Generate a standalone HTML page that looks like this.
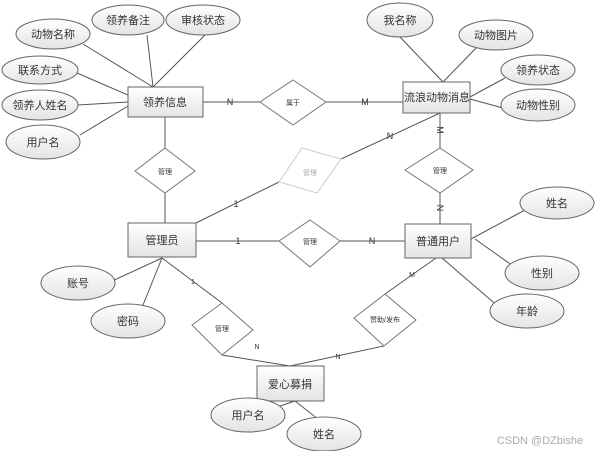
<!DOCTYPE html>
<html><head><meta charset="utf-8"><style>
html,body{margin:0;padding:0;background:#fff;}
svg text{font-family:"Liberation Sans","Noto Sans CJK SC",sans-serif;fill:#333;}
</style></head><body>
<svg width="600" height="451" viewBox="0 0 600 451" xmlns="http://www.w3.org/2000/svg">
<defs>
<linearGradient id="g" x1="0" y1="0" x2="0" y2="1"><stop offset="0" stop-color="#fff"/><stop offset="1" stop-color="#e4e4e4"/></linearGradient>
</defs>
<g stroke="#555" stroke-width="1" fill="none">
<line x1="83" y1="44" x2="153" y2="87"/>
<line x1="147" y1="35" x2="153" y2="87"/>
<line x1="205" y1="35" x2="153" y2="87"/>
<line x1="77" y1="73" x2="128" y2="95"/>
<line x1="78" y1="105" x2="128" y2="102"/>
<line x1="80" y1="135" x2="128" y2="106"/>
<line x1="400" y1="37" x2="443" y2="82"/>
<line x1="477" y1="47" x2="443" y2="82"/>
<line x1="505" y1="78" x2="470" y2="97"/>
<line x1="503" y1="108" x2="470" y2="99"/>
<line x1="525" y1="210" x2="471" y2="239"/>
<line x1="513" y1="266" x2="475" y2="239"/>
<line x1="500" y1="308" x2="442" y2="258"/>
<line x1="110" y1="282" x2="162" y2="258"/>
<line x1="143" y1="305" x2="162" y2="258"/>
<line x1="265" y1="411" x2="295" y2="401"/>
<line x1="318" y1="419" x2="295" y2="401"/>
<line x1="203" y1="102" x2="260" y2="102"/>
<line x1="326" y1="102" x2="403" y2="102"/>
<line x1="165" y1="117" x2="165" y2="148"/>
<line x1="165" y1="193" x2="165" y2="223"/>
<line x1="440" y1="113" x2="440" y2="148"/>
<line x1="440" y1="193" x2="440" y2="224"/>
<line x1="196" y1="241" x2="279" y2="241"/>
<line x1="340" y1="241" x2="405" y2="241"/>
<line x1="196" y1="223" x2="279" y2="182"/>
<line x1="341" y1="159" x2="440" y2="113"/>
<line x1="162" y1="258" x2="222" y2="303"/>
<line x1="222" y1="355" x2="290" y2="366"/>
<line x1="290" y1="366" x2="384" y2="346"/>
<line x1="385" y1="294" x2="436" y2="258"/>
</g>
<g stroke="#666" stroke-width="1" fill="url(#g)">
<rect x="128" y="87" width="75" height="30"/>
<rect x="403" y="82" width="67" height="31"/>
<rect x="128" y="223" width="68" height="34"/>
<rect x="405" y="224" width="66" height="34"/>
<rect x="257" y="366" width="67" height="35"/>
</g>
<g stroke="#777" stroke-width="1" fill="#fff">
<polygon points="293,80 326,102 293,125 260,102"/>
<polygon points="165,148 195,171 165,193 135,171"/>
<polygon points="440,148 473,170 440,193 405,170"/>
<polygon points="310,220 340,241 310,267 279,241"/>
<polygon points="222,303 253,330 222,355 192,325"/>
<polygon points="385,294 416,320 384,346 354,318"/>
<polygon points="302,148 341,159 317,193 279,182" stroke="#ccc"/>
</g>
<g stroke="#666" stroke-width="1" fill="url(#g)">
<ellipse cx="53" cy="34" rx="37" ry="15"/>
<ellipse cx="128" cy="20" rx="36" ry="15"/>
<ellipse cx="203" cy="20" rx="37" ry="15"/>
<ellipse cx="40" cy="70" rx="38" ry="14"/>
<ellipse cx="40" cy="105" rx="38" ry="15"/>
<ellipse cx="43" cy="142" rx="37" ry="17"/>
<ellipse cx="400" cy="20" rx="33" ry="17"/>
<ellipse cx="496" cy="35" rx="37" ry="15"/>
<ellipse cx="538" cy="70" rx="37" ry="15"/>
<ellipse cx="538" cy="105" rx="37" ry="16"/>
<ellipse cx="557" cy="203" rx="37" ry="16"/>
<ellipse cx="542" cy="273" rx="37" ry="17"/>
<ellipse cx="527" cy="311" rx="37" ry="17"/>
<ellipse cx="78" cy="283" rx="37" ry="17"/>
<ellipse cx="128" cy="321" rx="37" ry="17"/>
<ellipse cx="248" cy="415" rx="37" ry="17"/>
<ellipse cx="324" cy="434" rx="37" ry="17"/>
</g>
<g font-size="11" text-anchor="middle">
<text x="53" y="38">动物名称</text>
<text x="128" y="24">领养备注</text>
<text x="203" y="24">审核状态</text>
<text x="40" y="74">联系方式</text>
<text x="40" y="109">领养人姓名</text>
<text x="43" y="146">用户名</text>
<text x="400" y="24">我名称</text>
<text x="496" y="39">动物图片</text>
<text x="538" y="74">领养状态</text>
<text x="538" y="109">动物性别</text>
<text x="557" y="207">姓名</text>
<text x="542" y="277">性别</text>
<text x="527" y="315">年龄</text>
<text x="78" y="287">账号</text>
<text x="128" y="325">密码</text>
<text x="248" y="419">用户名</text>
<text x="324" y="438">姓名</text>
<text x="165" y="106">领养信息</text>
<text x="437" y="101">流浪动物消息</text>
<text x="162" y="244">管理员</text>
<text x="438" y="245">普通用户</text>
<text x="290" y="388">爱心募捐</text>
</g>
<g font-size="7" text-anchor="middle">
<text x="293" y="105">属于</text>
<text x="165" y="174">管理</text>
<text x="440" y="173">管理</text>
<text x="310" y="244">管理</text>
<text x="222" y="331">管理</text>
<text x="385" y="322">赞助/发布</text>
<text x="310" y="175" style="fill:#aaa">管理</text>
</g>
<g font-size="9" text-anchor="middle">
<text x="230" y="105">N</text>
<text x="365" y="105">M</text>
<text x="238" y="244">1</text>
<text x="372" y="244">N</text>
<text x="440" y="133" transform="rotate(90 440 130)">M</text>
<text x="440" y="211" transform="rotate(90 440 208)">N</text>
<text x="390" y="139">N</text>
<text x="236" y="207">1</text>
<text x="257" y="349" font-size="7">N</text>
<text x="338" y="359" font-size="7">N</text>
<text x="412" y="277" font-size="7">M</text>
<text x="193" y="284" font-size="7">1</text>
</g>
<text x="540" y="444" font-size="11" text-anchor="middle" style="fill:#aaa">CSDN @DZbishe</text>
</svg>
</body></html>
